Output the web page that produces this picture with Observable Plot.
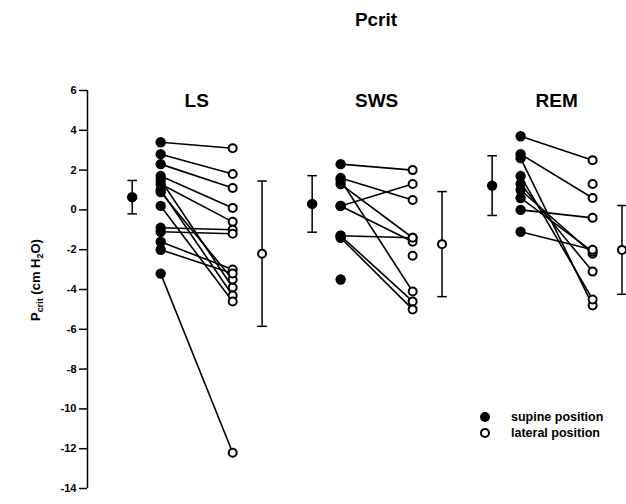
<!DOCTYPE html>
<html><head><meta charset="utf-8">
<script src="https://cdn.jsdelivr.net/npm/d3@7"></script>
<script src="https://cdn.jsdelivr.net/npm/@observablehq/plot@0.6"></script>
<style>
body{margin:0;background:#fff;font-family:"Liberation Sans",Arial,sans-serif;}
#wrap{position:relative;width:626px;height:504px;overflow:hidden;}
#title{position:relative;height:40px;}
#title span{position:absolute;left:376px;top:10px;transform:translateX(-50%);font-size:19px;font-weight:bold;line-height:1;color:#000;}
</style></head><body>
<div id="wrap"><div id="title"><span>Pcrit</span></div><div id="chart"></div></div>
<script>
// ---- data ----
const stages = ["LS", "SWS", "REM"];
// paired individual values (supine → lateral); null = unpaired point
const lsSupine  = [3.4, 2.8, 2.3, 1.7, 1.3, 1.5, 1.0, 0.9, 0.2, -0.9, -1.1, -1.6, -2.0, -3.2];
const lsLateral = [3.1, 1.8, 1.1, 0.1, -0.6, -3.9, -4.3, -3.5, -4.6, -1.0, -1.2, -3.0, -3.2, -12.2];
const swsSupine  = [2.3, 1.6, 1.3, 1.5, 0.2, 0.2, -1.3, -1.3, -1.4, -3.5, null];
const swsLateral = [2.0, 0.5, -1.4, -4.1, 1.3, -1.6, -1.4, -4.6, -5.0, null, -2.3];
const remSupine  = [3.7, 2.8, 2.6, 1.7, 1.3, 1.0, 0.6, 0.0, -1.1, null];
const remLateral = [2.5, 0.6, -4.8, -4.5, -3.1, -2.2, -2.1, -0.4, -2.0, 1.3];
// group means ± SD
const supineMean  = [0.64, 0.3, 1.22];
const supineSD    = [0.84, 1.42, 1.5];
const lateralMean = [-2.2, -1.72, -2.01];
const lateralSD   = [3.65, 2.64, 2.23];
const yTicks = [-14, -12, -10, -8, -6, -4, -2, 0, 2, 4, 6];
const legendLabels = ["supine position", "lateral position"];

// ---- layout (column codes on a unitless x scale) ----
const STEP = 6;
const COL = {meanS: 0, S: 0.95, L: 3.35, meanL: 4.33};
const xOf = (stage, col) => stages.indexOf(stage) * STEP + COL[col];
const xDomain = [-1.49, 16.48];

const series = {LS: [lsSupine, lsLateral], SWS: [swsSupine, swsLateral], REM: [remSupine, remLateral]};
const pairs = [], supinePts = [], lateralPts = [];
for (const s of stages) {
  const [sup, lat] = series[s];
  sup.forEach((v, i) => {
    const w = lat[i];
    if (v != null) supinePts.push({x: xOf(s, "S"), y: v});
    if (w != null) lateralPts.push({x: xOf(s, "L"), y: w});
    if (v != null && w != null) pairs.push({x1: xOf(s, "S"), y1: v, x2: xOf(s, "L"), y2: w});
  });
}
const summary = [];
stages.forEach((s, i) => {
  summary.push({x: xOf(s, "meanS"), m: supineMean[i], lo: supineMean[i] - supineSD[i], hi: supineMean[i] + supineSD[i], kind: "supine"});
  summary.push({x: xOf(s, "meanL"), m: lateralMean[i], lo: lateralMean[i] - lateralSD[i], hi: lateralMean[i] + lateralSD[i], kind: "lateral"});
});
const caps = summary.flatMap(d => [{x: d.x, y: d.lo}, {x: d.x, y: d.hi}]);
const labels = stages.map(s => ({x: (xOf(s, "S") + xOf(s, "L")) / 2, t: s}));
const capSymbol = {draw(ctx, size) { const r = Math.sqrt(size / Math.PI); ctx.moveTo(-r, 0); ctx.lineTo(r, 0); }};

const chart = Plot.plot({
  width: 626, height: 464,
  marginTop: 50, marginBottom: 16, marginLeft: 87, marginRight: 0,
  style: {fontFamily: "Liberation Sans, Arial, sans-serif", color: "#000", background: "#fff"},
  x: {domain: xDomain, axis: null},
  y: {domain: [-14, 6], axis: null},
  marks: [
    Plot.ruleX([xDomain[0]], {stroke: "#000", strokeWidth: 1.5}),
    Plot.axisY({ticks: yTicks, tickSize: 8, tickPadding: 3, fontSize: 11, fontWeight: "bold",
      tickFormat: d => String(d), label: null, strokeWidth: 1.5, stroke: "#000"}),
    Plot.link(pairs, {x1: "x1", y1: "y1", x2: "x2", y2: "y2", stroke: "#000", strokeWidth: 1.6}),
    Plot.ruleX(summary, {x: "x", y1: "lo", y2: "hi", stroke: "#000", strokeWidth: 1.5}),
    Plot.dot(caps, {x: "x", y: "y", symbol: capSymbol, r: 4.8, stroke: "#000", strokeWidth: 1.5, fill: "none"}),
    Plot.dot(supinePts, {x: "x", y: "y", r: 5.2, fill: "#000", stroke: "none"}),
    Plot.dot(lateralPts, {x: "x", y: "y", r: 4, fill: "#fff", stroke: "#000", strokeWidth: 2}),
    Plot.dot(summary.filter(d => d.kind === "supine"), {x: "x", y: "m", r: 5.2, fill: "#000", stroke: "none"}),
    Plot.dot(summary.filter(d => d.kind === "lateral"), {x: "x", y: "m", r: 4, fill: "#fff", stroke: "#000", strokeWidth: 2}),
    Plot.text(labels, {x: "x", text: "t", frameAnchor: "top", dy: 10, lineAnchor: "middle",
      fontSize: 19, fontWeight: "bold", fill: "#000"})
  ]
});
document.getElementById("chart").appendChild(chart);

// y axis title with subscripts
const svg = d3.select(chart);
const yt = svg.append("text")
  .attr("transform", "translate(40,240) rotate(-90)")
  .attr("text-anchor", "middle")
  .attr("font-size", 13).attr("font-weight", "bold").attr("fill", "#000");
yt.append("tspan").text("P");
yt.append("tspan").attr("font-size", 9).attr("dy", 3).text("crit");
yt.append("tspan").attr("dy", -3).text(" (cm H");
yt.append("tspan").attr("font-size", 9).attr("dy", 3).text("2");
yt.append("tspan").attr("dy", -3).text("O)");

// legend
const lg = svg.append("g").attr("text-anchor", "start");
lg.append("circle").attr("cx", 485).attr("cy", 377).attr("r", 5).attr("fill", "#000");
lg.append("circle").attr("cx", 485).attr("cy", 393).attr("r", 4).attr("fill", "#fff").attr("stroke", "#000").attr("stroke-width", 2);
legendLabels.forEach((t, i) => {
  lg.append("text").attr("x", 511).attr("y", 377 + i * 16).attr("dy", "0.35em")
    .attr("text-anchor", "start")
    .attr("font-size", 12.5).attr("font-weight", "bold").attr("fill", "#000").text(t);
});
</script>
</body></html>
